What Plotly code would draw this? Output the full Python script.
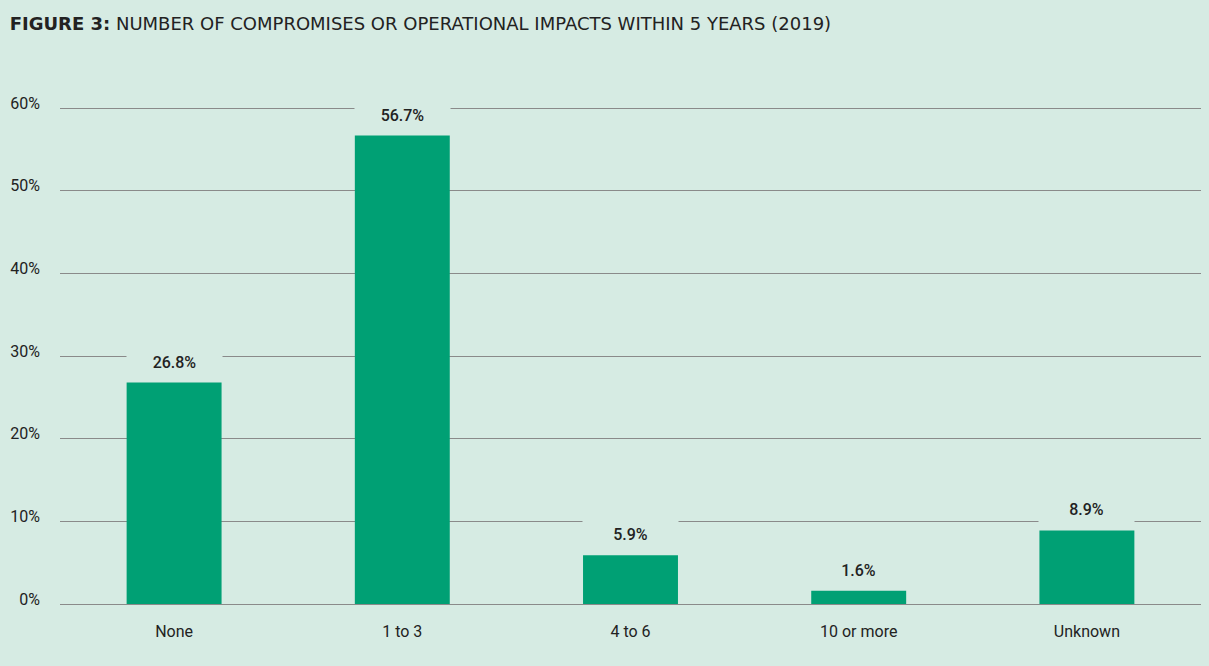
import plotly.graph_objects as go

categories = ["None", "1 to 3", "4 to 6", "10 or more", "Unknown"]
values = [26.8, 56.7, 5.9, 1.6, 8.9]
value_labels = ["26.8%", "56.7%", "5.9%", "1.6%", "8.9%"]
y_ticks = [0, 10, 20, 30, 40, 50, 60]
y_tick_labels = ["0%", "10%", "20%", "30%", "40%", "50%", "60%"]

BG = "#d6ebe3"
BAR = "#00a074"
TXT = "#222222"
FONT = "Roboto, sans-serif"

fig = go.Figure()
fig.add_trace(go.Bar(x=categories, y=values, marker=dict(color=BAR, line=dict(width=0)),
                     hoverinfo="skip"))

for c, v, t in zip(categories, values, value_labels):
    fig.add_annotation(x=c, y=v, text=t, showarrow=False, yanchor="bottom", yshift=5,
                       bgcolor=BG, width=95, height=30, borderpad=0,
                       font=dict(family=FONT, size=16, color=TXT, weight=500))

fig.update_layout(
    width=1209, height=666,
    paper_bgcolor=BG, plot_bgcolor=BG,
    margin=dict(l=60, r=8, t=107, b=62),
    bargap=0.584,
    showlegend=False,
    font=dict(family=FONT, size=16, color=TXT),
    title=dict(text="<b>FIGURE 3:</b> NUMBER OF COMPROMISES OR OPERATIONAL IMPACTS WITHIN 5 YEARS (2019)",
               x=0.008, xanchor="left", y=0.965, yanchor="middle",
               font=dict(family="DejaVu Sans, sans-serif", size=18, color=TXT)),
    xaxis=dict(showgrid=False, showline=False, ticks="", ticklabelstandoff=16,
               tickfont=dict(family=FONT, size=16, color=TXT)),
    yaxis=dict(range=[0, 60.15], tickvals=y_ticks, ticktext=y_tick_labels,
               showgrid=True, gridcolor="#8a8a8a", gridwidth=1,
               zeroline=True, zerolinecolor="#8a8a8a", zerolinewidth=1,
               showline=False, ticks="", ticklabelstandoff=19, ticklabelshift=-5,
               tickfont=dict(family=FONT, size=16, color=TXT)),
)

fig.write_html("out.html", config={"displayModeBar": False},
               post_script="document.body.style.margin='0';document.body.style.background='%s';" % BG)
